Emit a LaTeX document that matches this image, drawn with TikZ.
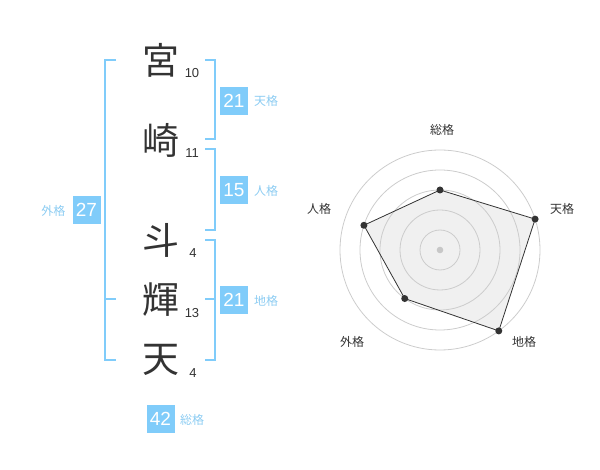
\documentclass[tikz,border=0pt]{standalone}
\usepackage{fontspec}
\setmainfont{Liberation Sans}
\newfontfamily\jpfont{Noto Sans CJK JP}
\usetikzlibrary{calc}
\definecolor{kakublue}{RGB}{128,204,250}
\definecolor{kakutext}{RGB}{140,204,242}
\definecolor{inkgray}{RGB}{51,51,51}
\tikzset{
	moji/.style={font=\jpfont\fontsize{37}{37}\selectfont, text=inkgray, inner sep=0pt},
	kakusu/.style={font=\fontsize{13}{13}\selectfont, text=inkgray, inner sep=0pt},
	kakubox/.style={fill=kakublue, text=white, minimum width=28pt, minimum height=28pt, inner sep=0pt, font=\fontsize{19}{19}\selectfont},
	kakuname/.style={text=kakutext, font=\jpfont\fontsize{12}{12}\selectfont, inner sep=0pt},
	kakko/.style={draw=kakublue, line width=2pt},
	ring/.style={draw=black!20, line width=0.8pt},
	axisname/.style={text=inkgray, font=\jpfont\fontsize{12}{12}\selectfont, inner sep=0pt}
}

\begin{document}
\begin{tikzpicture}[x=1pt, y=-1pt]
			%%%%% START %%%%%
			\useasboundingbox (0,0) rectangle (600,470);
			
			% name, one character per line
			\node[moji] (miya) at (160.5, 60) {宮};
			\node[moji] (saki) at (160.5, 140) {崎};
			\node[moji] (to) at (160.5, 240) {斗};
			\node[moji] (ki) at (160.5, 300) {輝};
			\node[moji] (ten) at (160.5, 360) {天};
			
			\node[kakusu] (miya-n) at (192, 73) {10};
			\node[kakusu] (saki-n) at (192, 153) {11};
			\node[kakusu] (to-n) at (193, 253) {4};
			\node[kakusu] (ki-n) at (192, 313) {13};
			\node[kakusu] (ten-n) at (193, 373) {4};
			
			% brackets
			\draw[kakko] (116, 60) -- (105, 60) -- (105, 360) -- (116, 360);
			\draw[kakko] (105, 299) -- (116, 299);
			\draw[kakko] (205, 60) -- (215, 60) -- (215, 139) -- (205, 139);
			\draw[kakko] (205, 149) -- (215, 149) -- (215, 230) -- (205, 230);
			\draw[kakko] (205, 240) -- (215, 240) -- (215, 360) -- (205, 360);
			\draw[kakko] (205, 299) -- (215, 299);
			
			% totals
			\node[kakubox] (tenkaku) at (234, 101) {21};
			\node[kakuname] (tenkaku-l) at (266, 101) {天格};
			\node[kakubox] (jinkaku) at (234, 190.5) {15};
			\node[kakuname] (jinkaku-l) at (266, 191) {人格};
			\node[kakubox] (chikaku) at (234, 300) {21};
			\node[kakuname] (chikaku-l) at (266, 301) {地格};
			\node[kakubox] (gaikaku) at (86.5, 210) {27};
			\node[kakuname] (gaikaku-l) at (53.5, 211) {外格};
			\node[kakubox] (soukaku) at (160.5, 419) {42};
			\node[kakuname] (soukaku-l) at (192, 420) {総格};
			
			% radar
			\begin{scope}[shift={(440, 250)}, yscale=-1]
				\foreach \ang/\r/\nm in {90/60/sou, 18/100/ten, -54/100/chi, -126/60/gai, 162/80/jin}
					\coordinate (p-\nm) at (\ang:\r);
				\fill[black!6] (p-sou) -- (p-ten) -- (p-chi) -- (p-gai) -- (p-jin) -- cycle;
				\foreach \r in {20, 40, ..., 100}
					\draw[ring] (0, 0) circle (\r);
				\fill[black!22] (0, 0) circle (3.3);
				\draw[inkgray, line width=0.8pt] (p-sou) -- (p-ten) -- (p-chi) -- (p-gai) -- (p-jin) -- cycle;
				\foreach \nm in {sou, ten, chi, gai, jin}
					\fill[inkgray] (p-\nm) circle (3.5);
				
				\node[axisname] (ax-sou) at (2, 120) {総格};
				\node[axisname] (ax-ten) at (122, 41) {天格};
				\node[axisname] (ax-chi) at (84, -92) {地格};
				\node[axisname] (ax-gai) at (-88, -92) {外格};
				\node[axisname] (ax-jin) at (-121, 41) {人格};
			\end{scope}
			
			%%%%% END %%%%%
		\end{tikzpicture}
\end{document}
